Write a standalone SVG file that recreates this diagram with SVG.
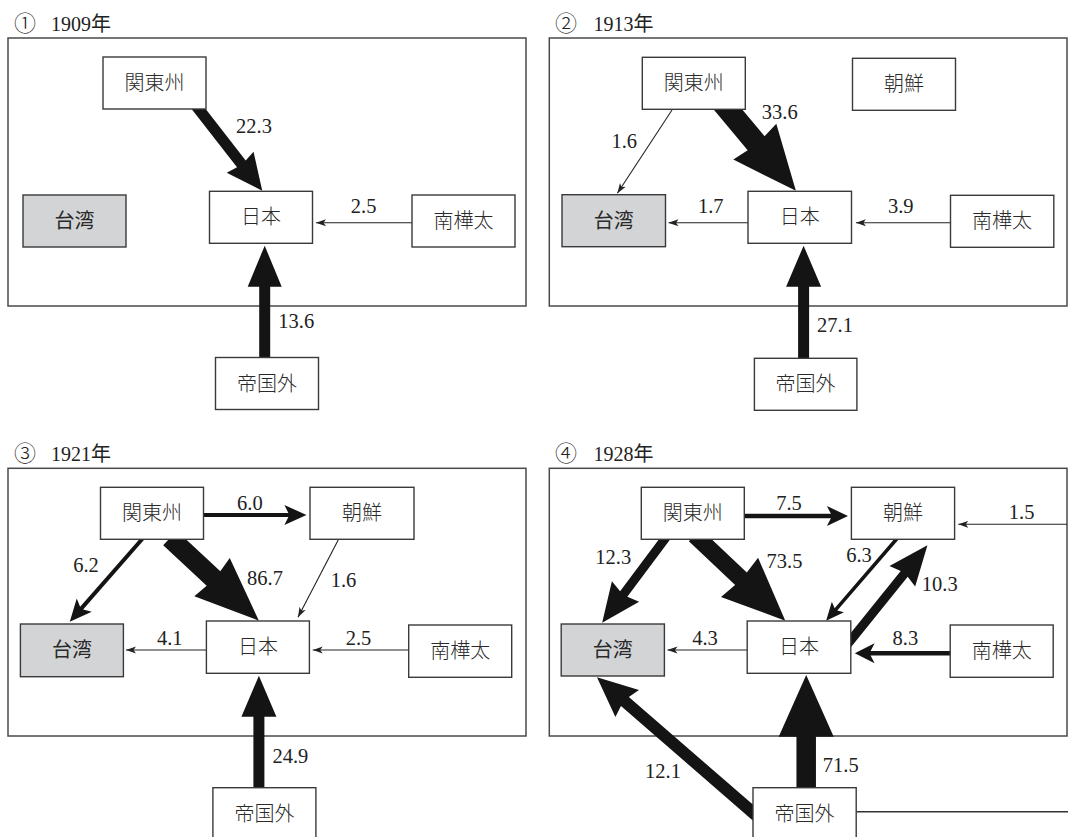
<svg xmlns="http://www.w3.org/2000/svg" width="1068" height="837" viewBox="0 0 1068 837">
<style>
.bg{fill:#ffffff}
.frame{fill:none;stroke:#4a4a4a;stroke-width:1.5}
.box{fill:#ffffff;stroke:#3a3a3a;stroke-width:1.4}
.gray{fill:#d3d4d6;stroke:#3a3a3a;stroke-width:1.4}
.lbl{font-family:"Noto Sans CJK JP","Noto Sans CJK SC",sans-serif;font-size:20px;font-weight:300;fill:#2a2a2a;text-anchor:middle}
.bold{font-weight:400}
.num{font-family:"Liberation Serif","Times New Roman",serif;font-size:20.5px;fill:#222;text-anchor:middle}
.ttl{font-family:"Liberation Serif","Noto Sans CJK JP",serif;font-size:20px;fill:#222}
.circ{font-family:"Noto Sans CJK JP",sans-serif;font-size:22px;font-weight:300}
.arr{fill:#141414}
.thin{stroke:#222;stroke-width:1.1;fill:none;marker-end:url(#tip)}
.plain{stroke:#333;stroke-width:1.4;fill:none}
</style>
<defs>
<marker id="tip" markerUnits="userSpaceOnUse" markerWidth="10" markerHeight="8" viewBox="0 -4 10 8" refX="10" refY="0" orient="auto">
<path d="M10,0 L0,-3.5 L2.5,0 L0,3.5 Z" fill="#222"/>
</marker>
</defs>
<rect class="bg" x="0" y="0" width="1068" height="837"/>

<g id="panels">
<rect class="frame" x="8" y="38" width="518" height="268"/>
<rect class="frame" x="549.3" y="38" width="517.7" height="268"/>
<rect class="frame" x="8" y="468.3" width="518" height="267.7"/>
<rect class="frame" x="549.3" y="468.3" width="517.7" height="267.7"/>
<text class="ttl" x="14" y="31"><tspan class="circ">①</tspan><tspan x="51">1909年</tspan></text>
<text class="ttl" x="555" y="31"><tspan class="circ">②</tspan><tspan x="593.6">1913年</tspan></text>
<text class="ttl" x="14" y="461"><tspan class="circ">③</tspan><tspan x="51">1921年</tspan></text>
<text class="ttl" x="555" y="461"><tspan class="circ">④</tspan><tspan x="593.6">1928年</tspan></text>
</g>

<g id="connectors">
<!-- Panel 1 -->
<polygon class="arr" transform="translate(193.2,102) rotate(52.1)" points="0,-5.5 78.4,-5.5 76.4,-17 112.4,0 76.4,17 78.4,5.5 0,5.5"/>
<line class="thin" x1="412" y1="222.7" x2="316" y2="222.7"/>
<polygon class="arr" points="259.2,365 259.2,286.7 247.7,286.7 264.7,245.7 281.7,286.7 270.2,286.7 270.2,365"/>
<text class="num" x="254" y="133">22.3</text>
<text class="num" x="363.6" y="213.3">2.5</text>
<text class="num" x="296.3" y="328.3">13.6</text>

<!-- Panel 2 -->
<polygon class="arr" transform="translate(720,100) rotate(50.1)" points="0,-11 56.3,-11 54.3,-28 118.3,0 54.3,28 56.3,11 0,11"/>
<line class="thin" x1="672" y1="110" x2="617.4" y2="193.3"/>
<line class="thin" x1="748" y1="222.7" x2="668.5" y2="222.7"/>
<line class="thin" x1="950.5" y1="222.7" x2="855.9" y2="222.7"/>
<polygon class="arr" points="798.1,365 798.1,286.7 786.1,286.7 803.6,245.7 821.1,286.7 809.1,286.7 809.1,365"/>
<text class="num" x="779.8" y="119.3">33.6</text>
<text class="num" x="624.3" y="148.3">1.6</text>
<text class="num" x="710.8" y="213.3">1.7</text>
<text class="num" x="900.7" y="213.3">3.9</text>
<text class="num" x="835" y="331.7">27.1</text>

<!-- Panel 3 -->
<polygon class="arr" points="200,513 288.4,513 284.4,505 306.5,515 284.4,525 288.4,517 200,517"/>
<polygon class="arr" transform="translate(144.6,536.2) rotate(131.2)" points="0,-2 95.6,-2 91.6,-10 113.6,0 91.6,10 95.6,2 0,2"/>
<polygon class="arr" transform="translate(170,538) rotate(42.93)" points="0,-10 59.4,-10 57.4,-26 121.4,0 57.4,26 59.4,10 0,10"/>
<line class="thin" x1="338.2" y1="540" x2="298" y2="617.3"/>
<line class="thin" x1="206.4" y1="650" x2="126" y2="650"/>
<line class="thin" x1="408.7" y1="650" x2="312.7" y2="650"/>
<polygon class="arr" points="253.4,795 253.4,716.7 241.4,716.7 258.9,675.7 276.4,716.7 264.4,716.7 264.4,795"/>
<text class="num" x="249.9" y="510">6.0</text>
<text class="num" x="86" y="571.7">6.2</text>
<text class="num" x="265" y="585">86.7</text>
<text class="num" x="343.5" y="587.3">1.6</text>
<text class="num" x="169.8" y="645">4.1</text>
<text class="num" x="358.5" y="645">2.5</text>
<text class="num" x="290.4" y="763.3">24.9</text>

<!-- Panel 4 -->
<polygon class="arr" points="741,513.75 830.9,513.75 826.9,506 848,516 826.9,526 830.9,518.25 741,518.25"/>
<line class="thin" x1="1067" y1="524.3" x2="958.3" y2="524.3"/>
<polygon class="arr" transform="translate(667.8,535) rotate(126.8)" points="0,-4.5 73.6,-4.5 70.6,-17 109.6,0 70.6,17 73.6,4.5 0,4.5"/>
<polygon class="arr" transform="translate(694.7,535) rotate(43.4)" points="0,-8.5 63.7,-8.5 61.7,-27 124.7,0 61.7,27 63.7,8.5 0,8.5"/>
<polygon class="arr" transform="translate(900.1,535) rotate(130.8)" points="0,-1.75 98.2,-1.75 95.2,-8 113.2,0 95.2,8 98.2,1.75 0,1.75"/>
<polygon class="arr" transform="translate(845.8,646.3) rotate(-51.1)" points="0,-4.5 93,-4.5 90,-16.5 130,0 90,16.5 93,4.5 0,4.5"/>
<line class="thin" x1="747.2" y1="650" x2="667.5" y2="650"/>
<polygon class="arr" points="952,651.05 870.6,651.05 874.6,643.3 854.8,653.3 874.6,663.3 870.6,655.55 952,655.55"/>
<polygon class="arr" points="796.45,795 796.45,736.7 778.7,736.7 806.2,675 833.7,736.7 815.95,736.7 815.95,795"/>
<polygon class="arr" transform="translate(756.7,815.9) rotate(-139.04)" points="0,-6 174.5,-6 171.5,-18 211.5,0 171.5,18 174.5,6 0,6"/>
<line class="plain" x1="856.2" y1="811.7" x2="1068" y2="811.7"/>
<text class="num" x="789" y="510">7.5</text>
<text class="num" x="1021.6" y="519.3">1.5</text>
<text class="num" x="613.2" y="564">12.3</text>
<text class="num" x="784.5" y="568.3">73.5</text>
<text class="num" x="859" y="561.7">6.3</text>
<text class="num" x="939.8" y="590.7">10.3</text>
<text class="num" x="705" y="645">4.3</text>
<text class="num" x="905.4" y="645">8.3</text>
<text class="num" x="840.8" y="771.7">71.5</text>
<text class="num" x="663" y="778.3">12.1</text>
</g>

<!-- Panel 1 nodes -->
<g id="p1-kanto"><rect class="box" x="103" y="57" width="103" height="52"/><text class="lbl" x="154.5" y="90">関東州</text></g>
<g id="p1-taiwan"><rect class="gray" x="23" y="195" width="103" height="52"/><text class="lbl bold" x="74.5" y="228">台湾</text></g>
<g id="p1-nihon"><rect class="box" x="209.5" y="191.3" width="103" height="52"/><text class="lbl" x="261" y="224.3">日本</text></g>
<g id="p1-karafuto"><rect class="box" x="412" y="195" width="103" height="52"/><text class="lbl" x="463.5" y="228">南樺太</text></g>
<g id="p1-gai"><rect class="box" x="215.5" y="357.5" width="103" height="52"/><text class="lbl" x="267" y="390.5">帝国外</text></g>

<!-- Panel 2 nodes -->
<g id="p2-kanto"><rect class="box" x="642.3" y="57.3" width="103" height="52"/><text class="lbl" x="693.8" y="90.3">関東州</text></g>
<g id="p2-chosen"><rect class="box" x="852.5" y="58.3" width="103" height="52"/><text class="lbl" x="904" y="91.3">朝鮮</text></g>
<g id="p2-taiwan"><rect class="gray" x="562" y="194.7" width="103.5" height="52"/><text class="lbl bold" x="613.7" y="227.7">台湾</text></g>
<g id="p2-nihon"><rect class="box" x="748" y="191.3" width="103.5" height="52"/><text class="lbl" x="799.7" y="224.3">日本</text></g>
<g id="p2-karafuto"><rect class="box" x="950.5" y="195.3" width="103.3" height="52"/><text class="lbl" x="1002.1" y="228.3">南樺太</text></g>
<g id="p2-gai"><rect class="box" x="754.4" y="358.3" width="102.5" height="52"/><text class="lbl" x="805.6" y="391.3">帝国外</text></g>

<!-- Panel 3 nodes -->
<g id="p3-kanto"><rect class="box" x="100.5" y="487.3" width="103" height="52"/><text class="lbl" x="152" y="520.3">関東州</text></g>
<g id="p3-chosen"><rect class="box" x="310" y="487.3" width="104" height="52"/><text class="lbl" x="362" y="520.3">朝鮮</text></g>
<g id="p3-taiwan"><rect class="gray" x="20.4" y="624" width="103" height="52.7"/><text class="lbl bold" x="71.9" y="657.3">台湾</text></g>
<g id="p3-nihon"><rect class="box" x="206.4" y="621" width="103" height="52.3"/><text class="lbl" x="257.9" y="654.1">日本</text></g>
<g id="p3-karafuto"><rect class="box" x="408.7" y="625" width="103" height="52.3"/><text class="lbl" x="460.2" y="658.1">南樺太</text></g>
<g id="p3-gai"><rect class="box" x="212.9" y="787.7" width="103" height="52"/><text class="lbl" x="264.4" y="820.7">帝国外</text></g>

<!-- Panel 4 nodes -->
<g id="p4-kanto"><rect class="box" x="641.3" y="487.3" width="103" height="52"/><text class="lbl" x="692.8" y="520.3">関東州</text></g>
<g id="p4-chosen"><rect class="box" x="851.4" y="487.3" width="103.2" height="52"/><text class="lbl" x="903" y="520.3">朝鮮</text></g>
<g id="p4-taiwan"><rect class="gray" x="561.2" y="624" width="103.2" height="52"/><text class="lbl bold" x="612.8" y="657">台湾</text></g>
<g id="p4-nihon"><rect class="box" x="747.2" y="621" width="103.6" height="52.3"/><text class="lbl" x="799" y="654.1">日本</text></g>
<g id="p4-karafuto"><rect class="box" x="950.2" y="625" width="103" height="52.3"/><text class="lbl" x="1001.7" y="658.1">南樺太</text></g>
<g id="p4-gai"><rect class="box" x="753" y="787.7" width="103.2" height="52"/><text class="lbl" x="804.6" y="820.7">帝国外</text></g>
</svg>
